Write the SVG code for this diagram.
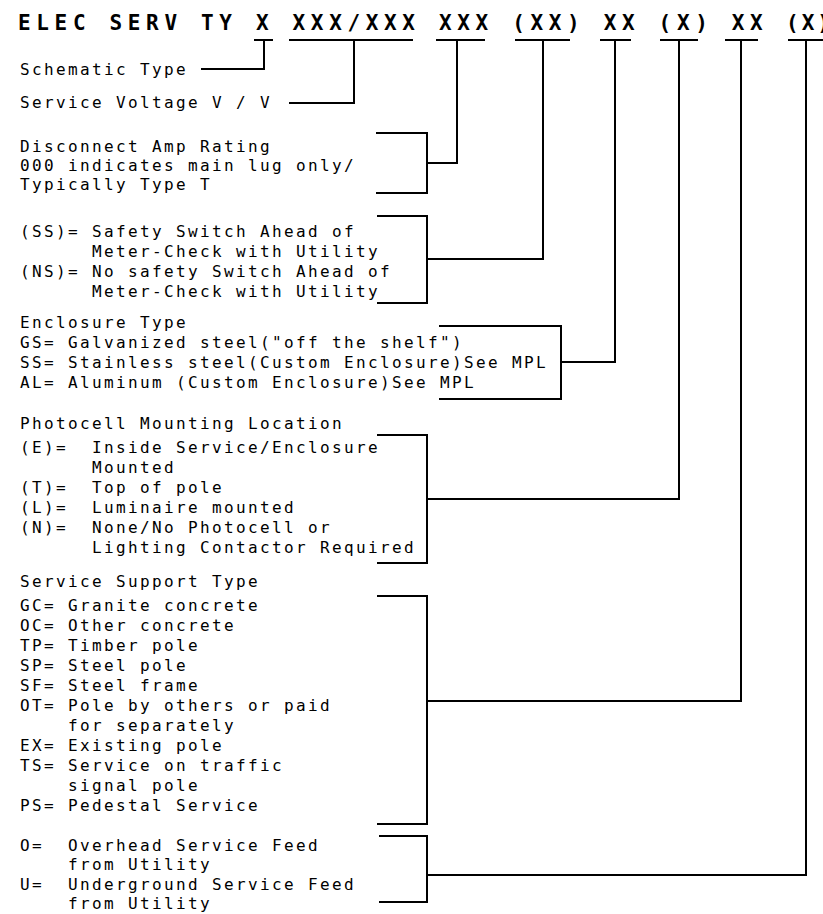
<svg xmlns="http://www.w3.org/2000/svg" width="823" height="914" viewBox="0 0 823 914">
<style>
  .hd { font-family: "DejaVu Sans Mono", "Liberation Mono", monospace; font-weight: bold; font-size: 21px; letter-spacing: 5.66px; fill: #000; }
  .tx { font-family: "DejaVu Sans Mono", "Liberation Mono", monospace; font-size: 16px; letter-spacing: 2.37px; fill: #000; }
  .ln { stroke: #000; stroke-width: 2; fill: none; stroke-linecap: square; }
</style>
<rect width="823" height="914" fill="#fff"/>
<g id="header">
  <text class="hd" x="18" y="30">ELEC SERV TY X XXX/XXX XXX (XX) XX (X) XX</text>
  <text class="hd" x="786" y="30" style="letter-spacing:3px">(X)</text>
  <path class="ln" d="M255 40H272M290 40H412M437 40H484M516 40H569M601 40H630M661 40H697M726 40H757M789 40H823"/>
</g>
<g id="schematic-type">
  <text class="tx" x="20" y="75">Schematic Type</text>
</g>
<g id="service-voltage">
  <text class="tx" x="20" y="108">Service Voltage V / V</text>
</g>
<g id="disconnect">
  <text class="tx" x="20" y="152">Disconnect Amp Rating</text>
  <text class="tx" x="20" y="171">000 indicates main lug only/</text>
  <text class="tx" x="20" y="190">Typically Type T</text>
</g>
<g id="safety-switch">
  <text class="tx" x="20" y="237">(SS)=</text>
  <text class="tx" x="92" y="237">Safety Switch Ahead of</text>
  <text class="tx" x="92" y="257">Meter-Check with Utility</text>
  <text class="tx" x="20" y="277">(NS)=</text>
  <text class="tx" x="92" y="277">No safety Switch Ahead of</text>
  <text class="tx" x="92" y="297">Meter-Check with Utility</text>
</g>
<g id="enclosure">
  <text class="tx" x="20" y="328">Enclosure Type</text>
  <text class="tx" x="20" y="348">GS= Galvanized steel("off the shelf")</text>
  <text class="tx" x="20" y="368">SS= Stainless steel(Custom Enclosure)See MPL</text>
  <text class="tx" x="20" y="388">AL= Aluminum (Custom Enclosure)See MPL</text>
</g>
<g id="photocell">
  <text class="tx" x="20" y="429">Photocell Mounting Location</text>
  <text class="tx" x="20" y="453">(E)=</text>
  <text class="tx" x="92" y="453">Inside Service/Enclosure</text>
  <text class="tx" x="92" y="473">Mounted</text>
  <text class="tx" x="20" y="493">(T)=</text>
  <text class="tx" x="92" y="493">Top of pole</text>
  <text class="tx" x="20" y="513">(L)=</text>
  <text class="tx" x="92" y="513">Luminaire mounted</text>
  <text class="tx" x="20" y="533">(N)=</text>
  <text class="tx" x="92" y="533">None/No Photocell or</text>
  <text class="tx" x="92" y="553">Lighting Contactor Required</text>
</g>
<g id="support">
  <text class="tx" x="20" y="587">Service Support Type</text>
  <text class="tx" x="20" y="611">GC=</text><text class="tx" x="68" y="611">Granite concrete</text>
  <text class="tx" x="20" y="631">OC=</text><text class="tx" x="68" y="631">Other concrete</text>
  <text class="tx" x="20" y="651">TP=</text><text class="tx" x="68" y="651">Timber pole</text>
  <text class="tx" x="20" y="671">SP=</text><text class="tx" x="68" y="671">Steel pole</text>
  <text class="tx" x="20" y="691">SF=</text><text class="tx" x="68" y="691">Steel frame</text>
  <text class="tx" x="20" y="711">OT=</text><text class="tx" x="68" y="711">Pole by others or paid</text>
  <text class="tx" x="68" y="731">for separately</text>
  <text class="tx" x="20" y="751">EX=</text><text class="tx" x="68" y="751">Existing pole</text>
  <text class="tx" x="20" y="771">TS=</text><text class="tx" x="68" y="771">Service on traffic</text>
  <text class="tx" x="68" y="791">signal pole</text>
  <text class="tx" x="20" y="811">PS=</text><text class="tx" x="68" y="811">Pedestal Service</text>
</g>
<g id="feed">
  <text class="tx" x="20" y="851">O=</text><text class="tx" x="68" y="851">Overhead Service Feed</text>
  <text class="tx" x="68" y="870">from Utility</text>
  <text class="tx" x="20" y="890">U=</text><text class="tx" x="68" y="890">Underground Service Feed</text>
  <text class="tx" x="68" y="909">from Utility</text>
</g>
<g id="connectors">
  <path class="ln" d="M202 69H264V40"/>
  <path class="ln" d="M290 103H354V40"/>
  <path class="ln" d="M377 133H427V193H377M427 163H457V40"/>
  <path class="ln" d="M378 216H427V303H378M427 259H543V40"/>
  <path class="ln" d="M440 326H561V399H440M561 362H615V40"/>
  <path class="ln" d="M378 435H427V563H378M427 499H679V40"/>
  <path class="ln" d="M378 596H427V824H378M427 701H741V40"/>
  <path class="ln" d="M380 836H427V902H380M427 875H806V40"/>
</g>
</svg>
